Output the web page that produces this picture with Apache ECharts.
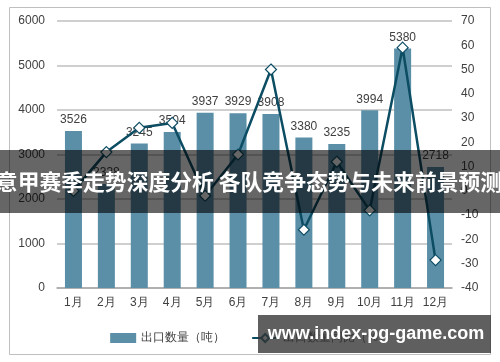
<!DOCTYPE html>
<html><head><meta charset="utf-8">
<script src="https://cdn.jsdelivr.net/npm/echarts@6/dist/echarts.min.js"></script>
<style>html,body{margin:0;padding:0;background:#fff}#c{width:500px;height:362px}</style>
</head><body><div id="c"></div>
<script>
const categories = ['1月','2月','3月','4月','5月','6月','7月','8月','9月','10月','11月','12月'];
const exportQty = [3526, 2338, 3245, 3504, 3937, 3929, 3908, 3380, 3235, 3994, 5380, 2718];
const exportYoY = [0, 16, 26, 28, -2, 15, 50, -16, 12, -8, 59, -28.5];
const leftTicks = {min: 0, max: 6000, interval: 1000};
const rightTicks = {min: -40, max: 70, interval: 10};
const seriesNames = ['出口数量（吨）', '出口数量同比（%）'];
const bannerText = '意甲赛季走势深度分析 各队竞争态势与未来前景预测';
const watermarkText = 'www.index-pg-game.com';

const chart = echarts.init(document.getElementById('c'));
const font = 'Liberation Sans, Arial, sans-serif';
chart.setOption({
  animation: false,
  textStyle: {fontFamily: font},
  grid: {left: 57, right: 48, top: 21, bottom: 74},
  legend: {
    top: 327, left: 'center', itemWidth: 26, itemHeight: 10, itemGap: 26,
    textStyle: {color: '#404040', fontSize: 12, fontFamily: font},
    data: [{name: seriesNames[0], icon: 'rect'}, {name: seriesNames[1]}]
  },
  xAxis: {
    type: 'category', data: categories,
    axisLine: {lineStyle: {color: '#a6a6a6', width: 1.5}},
    axisTick: {show: false},
    axisLabel: {color: '#404040', fontSize: 12, margin: 9, interval: 0}
  },
  yAxis: [
    {type: 'value', min: leftTicks.min, max: leftTicks.max, interval: leftTicks.interval,
     axisLine: {show: false}, axisTick: {show: false},
     axisLabel: {color: '#404040', fontSize: 12, margin: 12, formatter: v => String(v)},
     splitLine: {lineStyle: {color: '#bfbfbf', width: 1.5}}},
    {type: 'value', min: rightTicks.min, max: rightTicks.max, interval: rightTicks.interval,
     axisLine: {show: false}, axisTick: {show: false},
     axisLabel: {color: '#404040', fontSize: 12, margin: 9},
     splitLine: {show: false}}
  ],
  series: [
    {name: seriesNames[0], type: 'bar', data: exportQty, barWidth: 17,
     itemStyle: {color: '#5a8fa7'},
     label: {show: true, position: 'top', distance: 5, color: '#404040', fontSize: 12}},
    {name: seriesNames[1], type: 'line', yAxisIndex: 1, data: exportYoY,
     symbol: 'diamond', symbolSize: 11,
     lineStyle: {color: '#0d4d63', width: 2.5},
     itemStyle: {color: '#ffffff', borderColor: '#0d4d63', borderWidth: 1.2}}
  ],
  graphic: [
    {type: 'rect', shape: {x: 9.5, y: 7.5, width: 481, height: 347}, silent: true,
     style: {fill: 'none', stroke: '#bfbfbf', lineWidth: 1}, z: 0},
    {type: 'rect', shape: {x: 0, y: 150, width: 500, height: 63}, silent: true,
     style: {fill: 'rgba(0,0,0,0.6)'}, z: 100},
    {type: 'text', x: 249, y: 182, silent: true, z: 101,
     style: {text: bannerText, fill: '#ffffff', font: 'bold 21.8px "Noto Sans CJK SC", sans-serif',
             align: 'center', verticalAlign: 'middle'}},
    {type: 'rect', shape: {x: 258, y: 315, width: 233, height: 38}, silent: true,
     style: {fill: 'rgba(50,50,50,0.78)'}, z: 100},
    {type: 'text', x: 376, y: 334, silent: true, z: 101,
     style: {text: watermarkText, fill: '#ffffff', font: 'bold 18px "Liberation Sans", sans-serif',
             align: 'center', verticalAlign: 'middle'}}
  ]
});
</script></body></html>
